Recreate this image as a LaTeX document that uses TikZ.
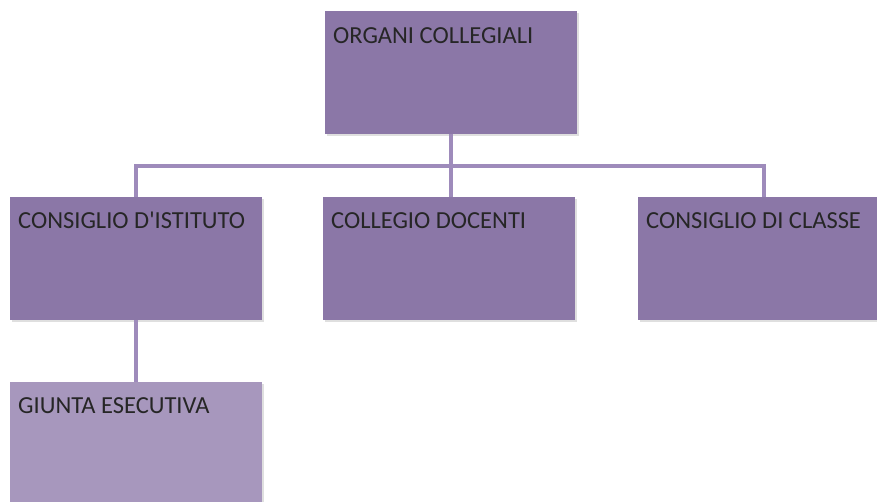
\documentclass[tikz,border=0pt]{standalone}
\usepackage{fontspec}
\setmainfont{Carlito}
\usetikzlibrary{shadows,calc}
\definecolor{boxdark}{HTML}{8B77A7}
\definecolor{boxlight}{HTML}{A797BD}
\definecolor{linec}{HTML}{9E8BBB}
\begin{document}
\begin{tikzpicture}[x=1pt,y=-1pt,
  box/.style={rectangle, anchor=north west, minimum width=252pt, minimum height=123pt, inner sep=0pt, fill=boxdark,
    drop shadow={shadow xshift=1.5pt, shadow yshift=-2pt, opacity=0.25}},
  lbox/.style={box, fill=boxlight},
  conn/.style={draw=linec, line width=4pt},
  lbl/.style={anchor=base west, inner sep=0pt, font=\fontsize{24.5}{28}\selectfont, text=black!85}]
\useasboundingbox (0,0) rectangle (877,501);
\clip (0,0) rectangle (877,501);
\fill[white] (0,0) rectangle (877,501);
\node[box] (org) at (325,11) {};
\node[box] (cons) at (10,197) {};
\node[box] (doc) at (323,197) {};
\node[box] (cls) at (638,197) {};
\node[lbox] (giu) at (10,382) {};
\coordinate (bar) at (451,166);
\draw[conn] (org.south) -- (org.south |- doc.north);
\draw[conn] (cons.north) |- (bar) -| (cls.north);
\draw[conn] (cons.south) -- (giu.north);
\node[lbl] (orgt) at ($(org.north west)+(8,32)$) {ORGANI COLLEGIALI};
\node[lbl] (const) at ($(cons.north west)+(8,31)$) {CONSIGLIO D\textquotesingle ISTITUTO};
\node[lbl] (doct) at ($(doc.north west)+(8,31)$) {COLLEGIO DOCENTI};
\node[lbl] (clst) at ($(cls.north west)+(8,31)$) {CONSIGLIO DI CLASSE};
\node[lbl] (giut) at ($(giu.north west)+(8,31)$) {GIUNTA ESECUTIVA};
\end{tikzpicture}
\end{document}
